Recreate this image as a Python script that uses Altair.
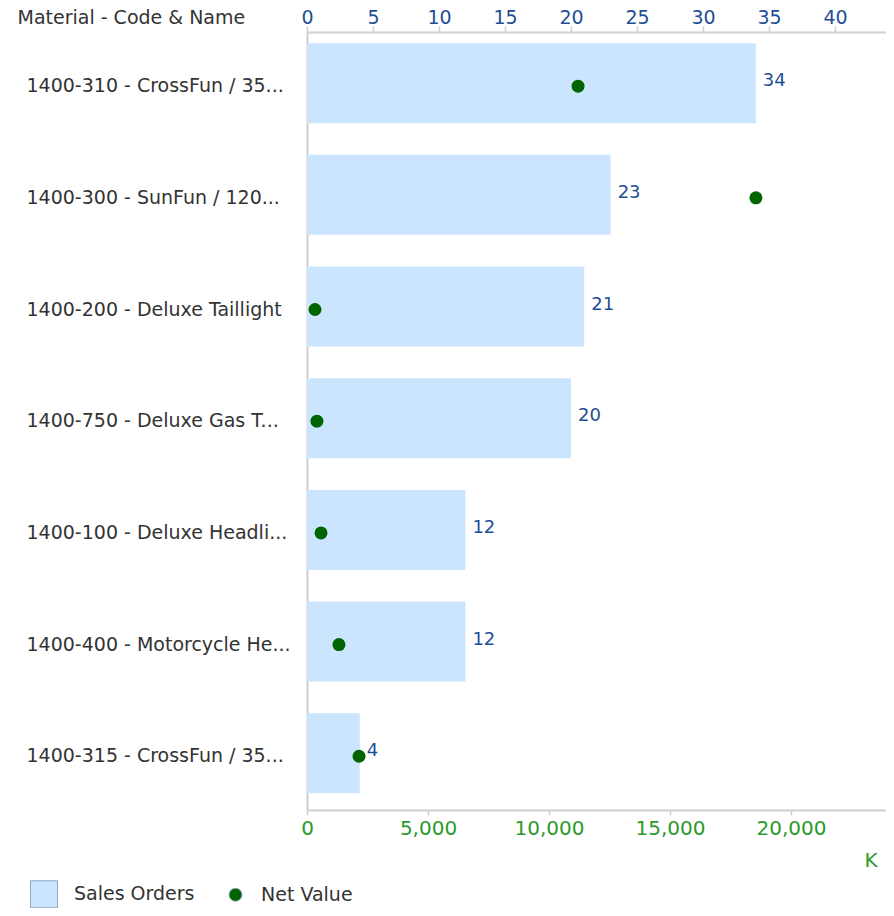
import altair as alt
import pandas as pd

categories = [
    "1400-310 - CrossFun / 35...",
    "1400-300 - SunFun / 120...",
    "1400-200 - Deluxe Taillight",
    "1400-750 - Deluxe Gas T...",
    "1400-100 - Deluxe Headli...",
    "1400-400 - Motorcycle He...",
    "1400-315 - CrossFun / 35...",
]
sales_orders = [34, 23, 21, 20, 12, 12, 4]
net_value_k = [11200, 18550, 330, 410, 580, 1320, 2150]
top_ticks = [0, 5, 10, 15, 20, 25, 30, 35, 40]
bottom_ticks = [0, 5000, 10000, 15000, 20000]
series_names = ["Sales Orders", "Net Value"]

df = pd.DataFrame({"label": categories, "sales": sales_orders, "net": net_value_k})

FONT = "DejaVu Sans"
GREY_TXT = "#333333"
BLUE = "#1f4e96"
GREEN = "#2a9a2a"
AXIS_GREY = "#cfcfcf"
BAR_FILL = "#cce5ff"
DOT = "#006400"

y_enc = alt.Y(
    "label:N",
    sort=categories,
    scale=alt.Scale(paddingInner=0.284, paddingOuter=0.125, align=0.4),
    axis=alt.Axis(
        title="Material - Code & Name",
        titleAngle=0,
        titleX=-290,
        titleY=-9,
        titleAlign="left",
        titleBaseline="alphabetic",
        titleFont=FONT,
        titleFontSize=19,
        titleFontWeight="normal",
        titleColor=GREY_TXT,
        labelAlign="left",
        labelBaseline="middle",
        labelPadding=281,
        labelOffset=3,
        labelFont=FONT,
        labelFontSize=19,
        labelColor=GREY_TXT,
        labelLimit=0,
        ticks=False,
        tickSize=0,
        domainColor=AXIS_GREY,
        domainWidth=2,
        grid=False,
    ),
)

legend = alt.Legend(
    orient="none",
    legendX=-277,
    legendY=848,
    direction="horizontal",
    title=None,
    labelFont=FONT,
    labelFontSize=19,
    labelColor=GREY_TXT,
    labelOffset=16,
    columnPadding=31,
    symbolStrokeColor="#8ea9c6",
    symbolStrokeWidth=1,
)

color_enc = alt.Color(
    "series:N",
    scale=alt.Scale(domain=series_names, range=[BAR_FILL, DOT]),
    legend=legend,
)

bars = (
    alt.Chart(df)
    .transform_calculate(series="'Sales Orders'")
    .mark_bar()
    .encode(
        x=alt.X(
            "sales:Q",
            scale=alt.Scale(domain=[0, 43.86], nice=False, zero=True),
            axis=alt.Axis(
                orient="top",
                values=top_ticks,
                format="d",
                title=None,
                labelFont=FONT,
                labelFontSize=19,
                labelColor=BLUE,
                labelBaseline="alphabetic",
                labelPadding=3,
                labelFlush=False,
                tickSize=6,
                tickColor=AXIS_GREY,
                tickWidth=1.5,
                domainColor=AXIS_GREY,
                domainWidth=2,
                grid=False,
            ),
        ),
        y=y_enc,
        color=color_enc,
    )
)

value_labels = (
    alt.Chart(df)
    .mark_text(align="left", baseline="middle", dx=7, dy=-2, font=FONT, fontSize=18, color=BLUE)
    .encode(
        x=alt.X("sales:Q", scale=alt.Scale(domain=[0, 43.86], nice=False, zero=True), axis=None),
        y=y_enc,
        text="sales:Q",
    )
)

points = (
    alt.Chart(df)
    .transform_calculate(series="'Net Value'")
    .mark_point(filled=True, opacity=1, yOffset=3)
    .encode(
        x=alt.X(
            "net:Q",
            scale=alt.Scale(domain=[0, 23925], nice=False, zero=True),
            axis=alt.Axis(
                orient="bottom",
                values=bottom_ticks,
                format=",d",
                title="K",
                titleX=570,
                titleY=56,
                titleAlign="right",
                titleBaseline="alphabetic",
                titleColor=GREEN,
                titleFont=FONT,
                titleFontSize=20,
                titleFontWeight="normal",
                labelFont=FONT,
                labelFontSize=20,
                labelColor=GREEN,
                labelBaseline="top",
                labelPadding=3,
                labelFlush=False,
                tickSize=5,
                tickColor=AXIS_GREY,
                tickWidth=1.5,
                domainColor=AXIS_GREY,
                domainWidth=2,
                grid=False,
            ),
        ),
        y=y_enc,
        color=color_enc,
        shape=alt.Shape(
            "series:N",
            scale=alt.Scale(domain=series_names, range=["square", "circle"]),
            legend=legend,
        ),
        size=alt.Size(
            "series:N",
            scale=alt.Scale(domain=series_names, range=[729, 169]),
            legend=legend,
        ),
    )
)

chart = (
    alt.layer(bars, value_labels, points)
    .resolve_scale(x="independent")
    .properties(
        width=579,
        height=778,
        autosize=alt.AutoSizeParams(type="none"),
        padding={"left": 299, "top": 24, "right": 0, "bottom": 98},
        background="white",
    )
    .configure_view(stroke=None)
)

chart.save("out.html", embed_options={"renderer": "svg", "actions": False})
